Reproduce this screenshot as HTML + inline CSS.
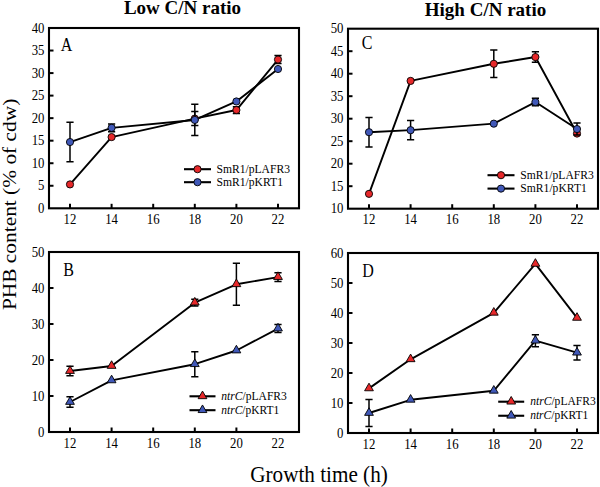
<!DOCTYPE html>
<html><head><meta charset="utf-8"><style>
html,body{margin:0;padding:0;background:#fff;width:600px;height:487px;overflow:hidden}
svg{display:block}
.t{font-family:"Liberation Serif",serif;font-size:13.6px;fill:#000}
.l{font-family:"Liberation Serif",serif;font-size:18px;fill:#000}
.lg{font-family:"Liberation Serif",serif;font-size:13.3px;fill:#000}
.ti{font-family:"Liberation Serif",serif;font-size:19px;font-weight:bold;fill:#000}
.ax{font-family:"Liberation Serif",serif;font-size:22.4px;fill:#000}
.ax2{font-family:"Liberation Serif",serif;font-size:21.4px;fill:#000}
</style></head><body>
<svg width="600" height="487" viewBox="0 0 600 487">
<rect x="49" y="28" width="250" height="180.3" fill="none" stroke="#000" stroke-width="2.1"/>
<text transform="translate(44.4,213.00) scale(0.94,1)" text-anchor="end" class="t">0</text>
<line x1="49" y1="185.76" x2="53.5" y2="185.76" stroke="#000" stroke-width="2"/>
<text transform="translate(44.4,190.46) scale(0.94,1)" text-anchor="end" class="t">5</text>
<line x1="49" y1="163.23" x2="53.5" y2="163.23" stroke="#000" stroke-width="2"/>
<text transform="translate(44.4,167.93) scale(0.94,1)" text-anchor="end" class="t">10</text>
<line x1="49" y1="140.69" x2="53.5" y2="140.69" stroke="#000" stroke-width="2"/>
<text transform="translate(44.4,145.39) scale(0.94,1)" text-anchor="end" class="t">15</text>
<line x1="49" y1="118.15" x2="53.5" y2="118.15" stroke="#000" stroke-width="2"/>
<text transform="translate(44.4,122.85) scale(0.94,1)" text-anchor="end" class="t">20</text>
<line x1="49" y1="95.61" x2="53.5" y2="95.61" stroke="#000" stroke-width="2"/>
<text transform="translate(44.4,100.31) scale(0.94,1)" text-anchor="end" class="t">25</text>
<line x1="49" y1="73.08" x2="53.5" y2="73.08" stroke="#000" stroke-width="2"/>
<text transform="translate(44.4,77.78) scale(0.94,1)" text-anchor="end" class="t">30</text>
<line x1="49" y1="50.54" x2="53.5" y2="50.54" stroke="#000" stroke-width="2"/>
<text transform="translate(44.4,55.24) scale(0.94,1)" text-anchor="end" class="t">35</text>
<text transform="translate(44.4,32.70) scale(0.94,1)" text-anchor="end" class="t">40</text>
<line x1="70.00" y1="208.3" x2="70.00" y2="203.8" stroke="#000" stroke-width="2"/>
<text transform="translate(70.00,223.90) scale(0.94,1)" text-anchor="middle" class="t">12</text>
<line x1="111.60" y1="208.3" x2="111.60" y2="203.8" stroke="#000" stroke-width="2"/>
<text transform="translate(111.60,223.90) scale(0.94,1)" text-anchor="middle" class="t">14</text>
<line x1="153.20" y1="208.3" x2="153.20" y2="203.8" stroke="#000" stroke-width="2"/>
<text transform="translate(153.20,223.90) scale(0.94,1)" text-anchor="middle" class="t">16</text>
<line x1="194.80" y1="208.3" x2="194.80" y2="203.8" stroke="#000" stroke-width="2"/>
<text transform="translate(194.80,223.90) scale(0.94,1)" text-anchor="middle" class="t">18</text>
<line x1="236.40" y1="208.3" x2="236.40" y2="203.8" stroke="#000" stroke-width="2"/>
<text transform="translate(236.40,223.90) scale(0.94,1)" text-anchor="middle" class="t">20</text>
<line x1="278.00" y1="208.3" x2="278.00" y2="203.8" stroke="#000" stroke-width="2"/>
<text transform="translate(278.00,223.90) scale(0.94,1)" text-anchor="middle" class="t">22</text>
<text transform="translate(60.8,50.6) scale(0.89,1)" class="l">A</text>
<path d="M70.00,184.41 L111.60,137.08 L194.80,118.60 L236.40,110.04 L278.00,59.55" fill="none" stroke="#000" stroke-width="1.9" stroke-linejoin="round"/>
<path d="M70.00,142.04 L111.60,127.84 L194.80,119.95 L236.40,101.47 L278.00,69.02" fill="none" stroke="#000" stroke-width="1.9" stroke-linejoin="round"/>
<path d="M194.80,111.60V125.60M191.20,111.60H198.40M191.20,125.60H198.40" stroke="#000" stroke-width="1.5" fill="none"/>
<path d="M236.40,106.64V113.44M232.80,106.64H240.00M232.80,113.44H240.00" stroke="#000" stroke-width="1.5" fill="none"/>
<path d="M278.00,55.55V63.55M274.40,55.55H281.60M274.40,63.55H281.60" stroke="#000" stroke-width="1.5" fill="none"/>
<circle cx="70.00" cy="184.41" r="3.6" fill="#e6282a" stroke="#000" stroke-width="0.9"/>
<circle cx="111.60" cy="137.08" r="3.6" fill="#e6282a" stroke="#000" stroke-width="0.9"/>
<circle cx="194.80" cy="118.60" r="3.6" fill="#e6282a" stroke="#000" stroke-width="0.9"/>
<circle cx="236.40" cy="110.04" r="3.6" fill="#e6282a" stroke="#000" stroke-width="0.9"/>
<circle cx="278.00" cy="59.55" r="3.6" fill="#e6282a" stroke="#000" stroke-width="0.9"/>
<path d="M70.00,122.24V161.84M66.40,122.24H73.60M66.40,161.84H73.60" stroke="#000" stroke-width="1.5" fill="none"/>
<path d="M111.60,124.04V131.64M108.00,124.04H115.20M108.00,131.64H115.20" stroke="#000" stroke-width="1.5" fill="none"/>
<path d="M194.80,104.35V135.55M191.20,104.35H198.40M191.20,135.55H198.40" stroke="#000" stroke-width="1.5" fill="none"/>
<circle cx="70.00" cy="142.04" r="3.6" fill="#4058b8" stroke="#000" stroke-width="0.9"/>
<circle cx="111.60" cy="127.84" r="3.6" fill="#4058b8" stroke="#000" stroke-width="0.9"/>
<circle cx="194.80" cy="119.95" r="3.6" fill="#4058b8" stroke="#000" stroke-width="0.9"/>
<circle cx="236.40" cy="101.47" r="3.6" fill="#4058b8" stroke="#000" stroke-width="0.9"/>
<circle cx="278.00" cy="69.02" r="3.6" fill="#4058b8" stroke="#000" stroke-width="0.9"/>
<line x1="184" y1="169.2" x2="211" y2="169.2" stroke="#000" stroke-width="2.1"/>
<circle cx="197.50" cy="169.20" r="3.6" fill="#e6282a" stroke="#000" stroke-width="0.9"/>
<text x="216.5" y="172.80" class="lg" textLength="73.5" lengthAdjust="spacingAndGlyphs">SmR1/pLAFR3</text>
<line x1="184" y1="182.2" x2="211" y2="182.2" stroke="#000" stroke-width="2.1"/>
<circle cx="197.50" cy="182.20" r="3.6" fill="#4058b8" stroke="#000" stroke-width="0.9"/>
<text x="216.5" y="185.80" class="lg" textLength="66.5" lengthAdjust="spacingAndGlyphs">SmR1/pKRT1</text>
<rect x="348" y="28.7" width="250" height="180.0" fill="none" stroke="#000" stroke-width="2.1"/>
<text transform="translate(343.4,213.40) scale(0.94,1)" text-anchor="end" class="t">10</text>
<line x1="348" y1="186.20" x2="352.5" y2="186.20" stroke="#000" stroke-width="2"/>
<text transform="translate(343.4,190.90) scale(0.94,1)" text-anchor="end" class="t">15</text>
<line x1="348" y1="163.70" x2="352.5" y2="163.70" stroke="#000" stroke-width="2"/>
<text transform="translate(343.4,168.40) scale(0.94,1)" text-anchor="end" class="t">20</text>
<line x1="348" y1="141.20" x2="352.5" y2="141.20" stroke="#000" stroke-width="2"/>
<text transform="translate(343.4,145.90) scale(0.94,1)" text-anchor="end" class="t">25</text>
<line x1="348" y1="118.70" x2="352.5" y2="118.70" stroke="#000" stroke-width="2"/>
<text transform="translate(343.4,123.40) scale(0.94,1)" text-anchor="end" class="t">30</text>
<line x1="348" y1="96.20" x2="352.5" y2="96.20" stroke="#000" stroke-width="2"/>
<text transform="translate(343.4,100.90) scale(0.94,1)" text-anchor="end" class="t">35</text>
<line x1="348" y1="73.70" x2="352.5" y2="73.70" stroke="#000" stroke-width="2"/>
<text transform="translate(343.4,78.40) scale(0.94,1)" text-anchor="end" class="t">40</text>
<line x1="348" y1="51.20" x2="352.5" y2="51.20" stroke="#000" stroke-width="2"/>
<text transform="translate(343.4,55.90) scale(0.94,1)" text-anchor="end" class="t">45</text>
<text transform="translate(343.4,33.40) scale(0.94,1)" text-anchor="end" class="t">50</text>
<line x1="369.00" y1="208.7" x2="369.00" y2="204.2" stroke="#000" stroke-width="2"/>
<text transform="translate(369.00,224.30) scale(0.94,1)" text-anchor="middle" class="t">12</text>
<line x1="410.60" y1="208.7" x2="410.60" y2="204.2" stroke="#000" stroke-width="2"/>
<text transform="translate(410.60,224.30) scale(0.94,1)" text-anchor="middle" class="t">14</text>
<line x1="452.20" y1="208.7" x2="452.20" y2="204.2" stroke="#000" stroke-width="2"/>
<text transform="translate(452.20,224.30) scale(0.94,1)" text-anchor="middle" class="t">16</text>
<line x1="493.80" y1="208.7" x2="493.80" y2="204.2" stroke="#000" stroke-width="2"/>
<text transform="translate(493.80,224.30) scale(0.94,1)" text-anchor="middle" class="t">18</text>
<line x1="535.40" y1="208.7" x2="535.40" y2="204.2" stroke="#000" stroke-width="2"/>
<text transform="translate(535.40,224.30) scale(0.94,1)" text-anchor="middle" class="t">20</text>
<line x1="577.00" y1="208.7" x2="577.00" y2="204.2" stroke="#000" stroke-width="2"/>
<text transform="translate(577.00,224.30) scale(0.94,1)" text-anchor="middle" class="t">22</text>
<text transform="translate(361.8,49.0) scale(0.89,1)" class="l">C</text>
<path d="M369.00,193.85 L410.60,80.90 L493.80,63.80 L535.40,57.05 L577.00,133.55" fill="none" stroke="#000" stroke-width="1.9" stroke-linejoin="round"/>
<path d="M369.00,132.20 L410.60,130.17 L493.80,123.65 L535.40,102.05 L577.00,129.05" fill="none" stroke="#000" stroke-width="1.9" stroke-linejoin="round"/>
<path d="M493.80,50.10V77.50M490.20,50.10H497.40M490.20,77.50H497.40" stroke="#000" stroke-width="1.5" fill="none"/>
<path d="M535.40,51.85V62.25M531.80,51.85H539.00M531.80,62.25H539.00" stroke="#000" stroke-width="1.5" fill="none"/>
<circle cx="369.00" cy="193.85" r="3.6" fill="#e6282a" stroke="#000" stroke-width="0.9"/>
<circle cx="410.60" cy="80.90" r="3.6" fill="#e6282a" stroke="#000" stroke-width="0.9"/>
<circle cx="493.80" cy="63.80" r="3.6" fill="#e6282a" stroke="#000" stroke-width="0.9"/>
<circle cx="535.40" cy="57.05" r="3.6" fill="#e6282a" stroke="#000" stroke-width="0.9"/>
<circle cx="577.00" cy="133.55" r="3.6" fill="#e6282a" stroke="#000" stroke-width="0.9"/>
<path d="M369.00,117.50V146.90M365.40,117.50H372.60M365.40,146.90H372.60" stroke="#000" stroke-width="1.5" fill="none"/>
<path d="M410.60,120.47V139.87M407.00,120.47H414.20M407.00,139.87H414.20" stroke="#000" stroke-width="1.5" fill="none"/>
<path d="M535.40,98.35V105.75M531.80,98.35H539.00M531.80,105.75H539.00" stroke="#000" stroke-width="1.5" fill="none"/>
<path d="M577.00,123.05V135.05M573.40,123.05H580.60M573.40,135.05H580.60" stroke="#000" stroke-width="1.5" fill="none"/>
<circle cx="369.00" cy="132.20" r="3.6" fill="#4058b8" stroke="#000" stroke-width="0.9"/>
<circle cx="410.60" cy="130.17" r="3.6" fill="#4058b8" stroke="#000" stroke-width="0.9"/>
<circle cx="493.80" cy="123.65" r="3.6" fill="#4058b8" stroke="#000" stroke-width="0.9"/>
<circle cx="535.40" cy="102.05" r="3.6" fill="#4058b8" stroke="#000" stroke-width="0.9"/>
<circle cx="577.00" cy="129.05" r="3.6" fill="#4058b8" stroke="#000" stroke-width="0.9"/>
<line x1="487.5" y1="175.2" x2="514.5" y2="175.2" stroke="#000" stroke-width="2.1"/>
<circle cx="501.00" cy="175.20" r="3.6" fill="#e6282a" stroke="#000" stroke-width="0.9"/>
<text x="520.3" y="178.80" class="lg" textLength="73.5" lengthAdjust="spacingAndGlyphs">SmR1/pLAFR3</text>
<line x1="487.5" y1="188.6" x2="514.5" y2="188.6" stroke="#000" stroke-width="2.1"/>
<circle cx="501.00" cy="188.60" r="3.6" fill="#4058b8" stroke="#000" stroke-width="0.9"/>
<text x="520.3" y="192.20" class="lg" textLength="66.5" lengthAdjust="spacingAndGlyphs">SmR1/pKRT1</text>
<rect x="49" y="252" width="250" height="180" fill="none" stroke="#000" stroke-width="2.1"/>
<text transform="translate(44.4,436.70) scale(0.94,1)" text-anchor="end" class="t">0</text>
<line x1="49" y1="396.00" x2="53.5" y2="396.00" stroke="#000" stroke-width="2"/>
<text transform="translate(44.4,400.70) scale(0.94,1)" text-anchor="end" class="t">10</text>
<line x1="49" y1="360.00" x2="53.5" y2="360.00" stroke="#000" stroke-width="2"/>
<text transform="translate(44.4,364.70) scale(0.94,1)" text-anchor="end" class="t">20</text>
<line x1="49" y1="324.00" x2="53.5" y2="324.00" stroke="#000" stroke-width="2"/>
<text transform="translate(44.4,328.70) scale(0.94,1)" text-anchor="end" class="t">30</text>
<line x1="49" y1="288.00" x2="53.5" y2="288.00" stroke="#000" stroke-width="2"/>
<text transform="translate(44.4,292.70) scale(0.94,1)" text-anchor="end" class="t">40</text>
<text transform="translate(44.4,256.70) scale(0.94,1)" text-anchor="end" class="t">50</text>
<line x1="70.00" y1="432" x2="70.00" y2="427.5" stroke="#000" stroke-width="2"/>
<text transform="translate(70.00,447.60) scale(0.94,1)" text-anchor="middle" class="t">12</text>
<line x1="111.60" y1="432" x2="111.60" y2="427.5" stroke="#000" stroke-width="2"/>
<text transform="translate(111.60,447.60) scale(0.94,1)" text-anchor="middle" class="t">14</text>
<line x1="153.20" y1="432" x2="153.20" y2="427.5" stroke="#000" stroke-width="2"/>
<text transform="translate(153.20,447.60) scale(0.94,1)" text-anchor="middle" class="t">16</text>
<line x1="194.80" y1="432" x2="194.80" y2="427.5" stroke="#000" stroke-width="2"/>
<text transform="translate(194.80,447.60) scale(0.94,1)" text-anchor="middle" class="t">18</text>
<line x1="236.40" y1="432" x2="236.40" y2="427.5" stroke="#000" stroke-width="2"/>
<text transform="translate(236.40,447.60) scale(0.94,1)" text-anchor="middle" class="t">20</text>
<text transform="translate(278.00,447.60) scale(0.94,1)" text-anchor="middle" class="t">22</text>
<text transform="translate(63.2,275.8) scale(0.89,1)" class="l">B</text>
<path d="M70.00,371.04 L111.60,366.00 L194.80,302.64 L236.40,284.28 L278.00,277.08" fill="none" stroke="#000" stroke-width="1.9" stroke-linejoin="round"/>
<path d="M70.00,402.00 L111.60,380.40 L194.80,364.20 L236.40,350.52 L278.00,328.56" fill="none" stroke="#000" stroke-width="1.9" stroke-linejoin="round"/>
<path d="M70.00,366.24V375.84M66.40,366.24H73.60M66.40,375.84H73.60" stroke="#000" stroke-width="1.5" fill="none"/>
<path d="M194.80,299.34V305.94M191.20,299.34H198.40M191.20,305.94H198.40" stroke="#000" stroke-width="1.5" fill="none"/>
<path d="M236.40,263.28V305.28M232.80,263.28H240.00M232.80,305.28H240.00" stroke="#000" stroke-width="1.5" fill="none"/>
<path d="M278.00,272.78V281.38M274.40,272.78H281.60M274.40,281.38H281.60" stroke="#000" stroke-width="1.5" fill="none"/>
<path d="M70.00,365.80L74.40,373.40L65.60,373.40Z" fill="#e6282a" stroke="#000" stroke-width="0.9" stroke-linejoin="miter"/>
<path d="M111.60,360.76L116.00,368.36L107.20,368.36Z" fill="#e6282a" stroke="#000" stroke-width="0.9" stroke-linejoin="miter"/>
<path d="M194.80,297.40L199.20,305.00L190.40,305.00Z" fill="#e6282a" stroke="#000" stroke-width="0.9" stroke-linejoin="miter"/>
<path d="M236.40,279.04L240.80,286.64L232.00,286.64Z" fill="#e6282a" stroke="#000" stroke-width="0.9" stroke-linejoin="miter"/>
<path d="M278.00,271.84L282.40,279.44L273.60,279.44Z" fill="#e6282a" stroke="#000" stroke-width="0.9" stroke-linejoin="miter"/>
<path d="M70.00,396.80V407.20M66.40,396.80H73.60M66.40,407.20H73.60" stroke="#000" stroke-width="1.5" fill="none"/>
<path d="M194.80,351.70V376.70M191.20,351.70H198.40M191.20,376.70H198.40" stroke="#000" stroke-width="1.5" fill="none"/>
<path d="M278.00,324.56V332.56M274.40,324.56H281.60M274.40,332.56H281.60" stroke="#000" stroke-width="1.5" fill="none"/>
<path d="M70.00,396.76L74.40,404.36L65.60,404.36Z" fill="#4058b8" stroke="#000" stroke-width="0.9" stroke-linejoin="miter"/>
<path d="M111.60,375.16L116.00,382.76L107.20,382.76Z" fill="#4058b8" stroke="#000" stroke-width="0.9" stroke-linejoin="miter"/>
<path d="M194.80,358.96L199.20,366.56L190.40,366.56Z" fill="#4058b8" stroke="#000" stroke-width="0.9" stroke-linejoin="miter"/>
<path d="M236.40,345.28L240.80,352.88L232.00,352.88Z" fill="#4058b8" stroke="#000" stroke-width="0.9" stroke-linejoin="miter"/>
<path d="M278.00,323.32L282.40,330.92L273.60,330.92Z" fill="#4058b8" stroke="#000" stroke-width="0.9" stroke-linejoin="miter"/>
<line x1="189.5" y1="396.3" x2="215.5" y2="396.3" stroke="#000" stroke-width="2.1"/>
<path d="M202.50,391.06L206.90,398.66L198.10,398.66Z" fill="#e6282a" stroke="#000" stroke-width="0.9" stroke-linejoin="miter"/>
<text x="221.3" y="399.90" class="lg" textLength="65.5" lengthAdjust="spacingAndGlyphs"><tspan font-style="italic">ntrC</tspan>/pLAFR3</text>
<line x1="189.5" y1="410.2" x2="215.5" y2="410.2" stroke="#000" stroke-width="2.1"/>
<path d="M202.50,404.96L206.90,412.56L198.10,412.56Z" fill="#4058b8" stroke="#000" stroke-width="0.9" stroke-linejoin="miter"/>
<text x="221.3" y="413.80" class="lg" textLength="58" lengthAdjust="spacingAndGlyphs"><tspan font-style="italic">ntrC</tspan>/pKRT1</text>
<rect x="348" y="253" width="250" height="180" fill="none" stroke="#000" stroke-width="2.1"/>
<text transform="translate(343.4,437.70) scale(0.94,1)" text-anchor="end" class="t">0</text>
<line x1="348" y1="403.00" x2="352.5" y2="403.00" stroke="#000" stroke-width="2"/>
<text transform="translate(343.4,407.70) scale(0.94,1)" text-anchor="end" class="t">10</text>
<line x1="348" y1="373.00" x2="352.5" y2="373.00" stroke="#000" stroke-width="2"/>
<text transform="translate(343.4,377.70) scale(0.94,1)" text-anchor="end" class="t">20</text>
<line x1="348" y1="343.00" x2="352.5" y2="343.00" stroke="#000" stroke-width="2"/>
<text transform="translate(343.4,347.70) scale(0.94,1)" text-anchor="end" class="t">30</text>
<line x1="348" y1="313.00" x2="352.5" y2="313.00" stroke="#000" stroke-width="2"/>
<text transform="translate(343.4,317.70) scale(0.94,1)" text-anchor="end" class="t">40</text>
<line x1="348" y1="283.00" x2="352.5" y2="283.00" stroke="#000" stroke-width="2"/>
<text transform="translate(343.4,287.70) scale(0.94,1)" text-anchor="end" class="t">50</text>
<text transform="translate(343.4,257.70) scale(0.94,1)" text-anchor="end" class="t">60</text>
<line x1="369.00" y1="433" x2="369.00" y2="428.5" stroke="#000" stroke-width="2"/>
<text transform="translate(369.00,448.60) scale(0.94,1)" text-anchor="middle" class="t">12</text>
<line x1="410.60" y1="433" x2="410.60" y2="428.5" stroke="#000" stroke-width="2"/>
<text transform="translate(410.60,448.60) scale(0.94,1)" text-anchor="middle" class="t">14</text>
<line x1="452.20" y1="433" x2="452.20" y2="428.5" stroke="#000" stroke-width="2"/>
<text transform="translate(452.20,448.60) scale(0.94,1)" text-anchor="middle" class="t">16</text>
<line x1="493.80" y1="433" x2="493.80" y2="428.5" stroke="#000" stroke-width="2"/>
<text transform="translate(493.80,448.60) scale(0.94,1)" text-anchor="middle" class="t">18</text>
<line x1="535.40" y1="433" x2="535.40" y2="428.5" stroke="#000" stroke-width="2"/>
<text transform="translate(535.40,448.60) scale(0.94,1)" text-anchor="middle" class="t">20</text>
<line x1="577.00" y1="433" x2="577.00" y2="428.5" stroke="#000" stroke-width="2"/>
<text transform="translate(577.00,448.60) scale(0.94,1)" text-anchor="middle" class="t">22</text>
<text transform="translate(362.3,277.0) scale(0.89,1)" class="l">D</text>
<path d="M369.00,388.40 L410.60,359.30 L493.80,312.80 L535.40,263.90 L577.00,317.90" fill="none" stroke="#000" stroke-width="1.9" stroke-linejoin="round"/>
<path d="M369.00,413.00 L410.60,399.80 L493.80,390.80 L535.40,340.70 L577.00,352.70" fill="none" stroke="#000" stroke-width="1.9" stroke-linejoin="round"/>
<path d="M369.00,383.16L373.40,390.76L364.60,390.76Z" fill="#e6282a" stroke="#000" stroke-width="0.9" stroke-linejoin="miter"/>
<path d="M410.60,354.06L415.00,361.66L406.20,361.66Z" fill="#e6282a" stroke="#000" stroke-width="0.9" stroke-linejoin="miter"/>
<path d="M493.80,307.56L498.20,315.16L489.40,315.16Z" fill="#e6282a" stroke="#000" stroke-width="0.9" stroke-linejoin="miter"/>
<path d="M535.40,258.66L539.80,266.26L531.00,266.26Z" fill="#e6282a" stroke="#000" stroke-width="0.9" stroke-linejoin="miter"/>
<path d="M577.00,312.66L581.40,320.26L572.60,320.26Z" fill="#e6282a" stroke="#000" stroke-width="0.9" stroke-linejoin="miter"/>
<path d="M369.00,399.40V426.60M365.40,399.40H372.60M365.40,426.60H372.60" stroke="#000" stroke-width="1.5" fill="none"/>
<path d="M535.40,334.70V346.70M531.80,334.70H539.00M531.80,346.70H539.00" stroke="#000" stroke-width="1.5" fill="none"/>
<path d="M577.00,345.40V360.00M573.40,345.40H580.60M573.40,360.00H580.60" stroke="#000" stroke-width="1.5" fill="none"/>
<path d="M369.00,407.76L373.40,415.36L364.60,415.36Z" fill="#4058b8" stroke="#000" stroke-width="0.9" stroke-linejoin="miter"/>
<path d="M410.60,394.56L415.00,402.16L406.20,402.16Z" fill="#4058b8" stroke="#000" stroke-width="0.9" stroke-linejoin="miter"/>
<path d="M493.80,385.56L498.20,393.16L489.40,393.16Z" fill="#4058b8" stroke="#000" stroke-width="0.9" stroke-linejoin="miter"/>
<path d="M535.40,335.46L539.80,343.06L531.00,343.06Z" fill="#4058b8" stroke="#000" stroke-width="0.9" stroke-linejoin="miter"/>
<path d="M577.00,347.46L581.40,355.06L572.60,355.06Z" fill="#4058b8" stroke="#000" stroke-width="0.9" stroke-linejoin="miter"/>
<line x1="498.2" y1="401.7" x2="524.2" y2="401.7" stroke="#000" stroke-width="2.1"/>
<path d="M511.20,396.46L515.60,404.06L506.80,404.06Z" fill="#e6282a" stroke="#000" stroke-width="0.9" stroke-linejoin="miter"/>
<text x="530.2" y="405.30" class="lg" textLength="65.5" lengthAdjust="spacingAndGlyphs"><tspan font-style="italic">ntrC</tspan>/pLAFR3</text>
<line x1="498.2" y1="415.75" x2="524.2" y2="415.75" stroke="#000" stroke-width="2.1"/>
<path d="M511.20,410.51L515.60,418.11L506.80,418.11Z" fill="#4058b8" stroke="#000" stroke-width="0.9" stroke-linejoin="miter"/>
<text x="530.2" y="419.35" class="lg" textLength="58" lengthAdjust="spacingAndGlyphs"><tspan font-style="italic">ntrC</tspan>/pKRT1</text>
<text x="182.5" y="14.3" text-anchor="middle" class="ti">Low C/N ratio</text>
<text x="485.5" y="16.4" text-anchor="middle" class="ti">High C/N ratio</text>
<text transform="translate(319.0,481.6) scale(0.945,1)" text-anchor="middle" class="ax">Growth time (h)</text>
<text transform="translate(15.7,204.4) scale(0.91,1) rotate(-90)" text-anchor="middle" class="ax2">PHB content (% of cdw)</text>
</svg>
</body></html>
